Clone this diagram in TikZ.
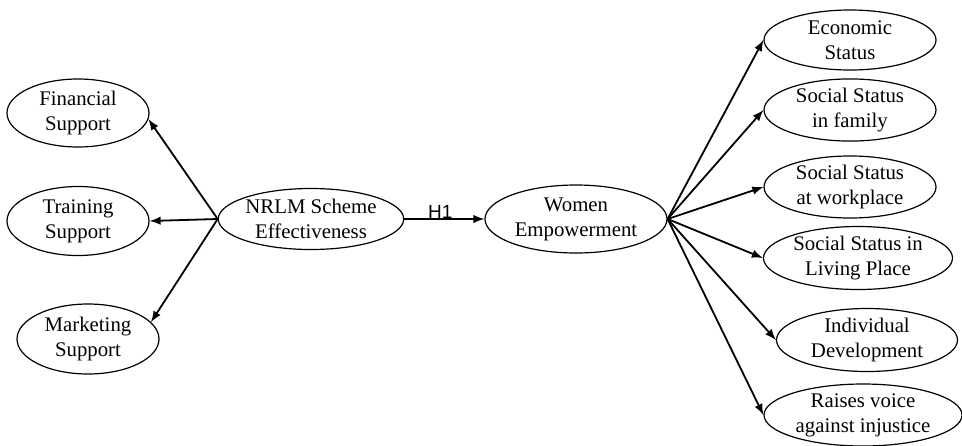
\documentclass[tikz,border=0pt]{standalone}
\usepackage{fontspec}
\setmainfont{Liberation Serif}
\newfontfamily\hfont{Liberation Sans}
\usetikzlibrary{shapes.geometric}
\begin{document}
\begin{tikzpicture}[x=0.5pt,y=-0.5pt,
		construct/.style={draw,ellipse,semithick,inner sep=0pt,align=center,
			font=\fontsize{10.4}{12.5}\selectfont}]
		\useasboundingbox (0,0) rectangle (962,445);

		% dimensions of NRLM scheme
		\node[construct,minimum width=71pt,minimum height=34pt] (fin) at (78,113) {Financial\\Support};
		\node[construct,minimum width=71pt,minimum height=34.5pt] (train) at (78,221) {Training\\Support};
		\node[construct,minimum width=71pt,minimum height=35pt] (mkt) at (88,339) {Marketing\\Support};

		\node[construct,minimum width=91pt,minimum height=30.5pt] (nrlm) at (311,219) {NRLM Scheme\\Effectiveness};
		\node[construct,minimum width=91pt,minimum height=34pt] (women) at (576,219) {Women\\Empowerment};

		% dimensions of women empowerment
		\node[construct,minimum width=86pt,minimum height=30pt] (econ) at (850,40) {Economic\\Status};
		\node[construct,minimum width=86pt,minimum height=29.5pt] (family) at (850,110) {Social Status\\in family};
		\node[construct,minimum width=86pt,minimum height=29pt] (work) at (850,187) {Social Status\\at workplace};
		\node[construct,minimum width=94.5pt,minimum height=31.5pt] (living) at (858,258) {Social Status in\\Living Place};
		\node[construct,minimum width=90.5pt,minimum height=31.5pt] (indiv) at (867,340) {Individual\\Development};
		\node[construct,minimum width=99pt,minimum height=31pt] (voice) at (863,415) {Raises voice\\against injustice};

		\begin{scope}[->,>=latex,line width=0.9pt]
		    \draw (nrlm.west) -- (fin.-5);
		    \draw (nrlm.west) -- (train.east);
		    \draw (nrlm.west) -- (mkt.15);
		    \draw (nrlm.east) -- node[above,inner sep=0pt,xshift=-2pt,font=\hfont\fontsize{9.5}{10}\selectfont] (h1) {H1} (women.west);
		    \draw (women.east) -- (econ.west);
		    \draw (women.east) -- (family.west);
		    \draw (women.east) -- (work.west);
		    \draw (women.east) -- (living.west);
		    \draw (women.east) -- (indiv.west);
		    \draw (women.east) -- (voice.west);
		\end{scope}
	    \end{tikzpicture}
\end{document}
